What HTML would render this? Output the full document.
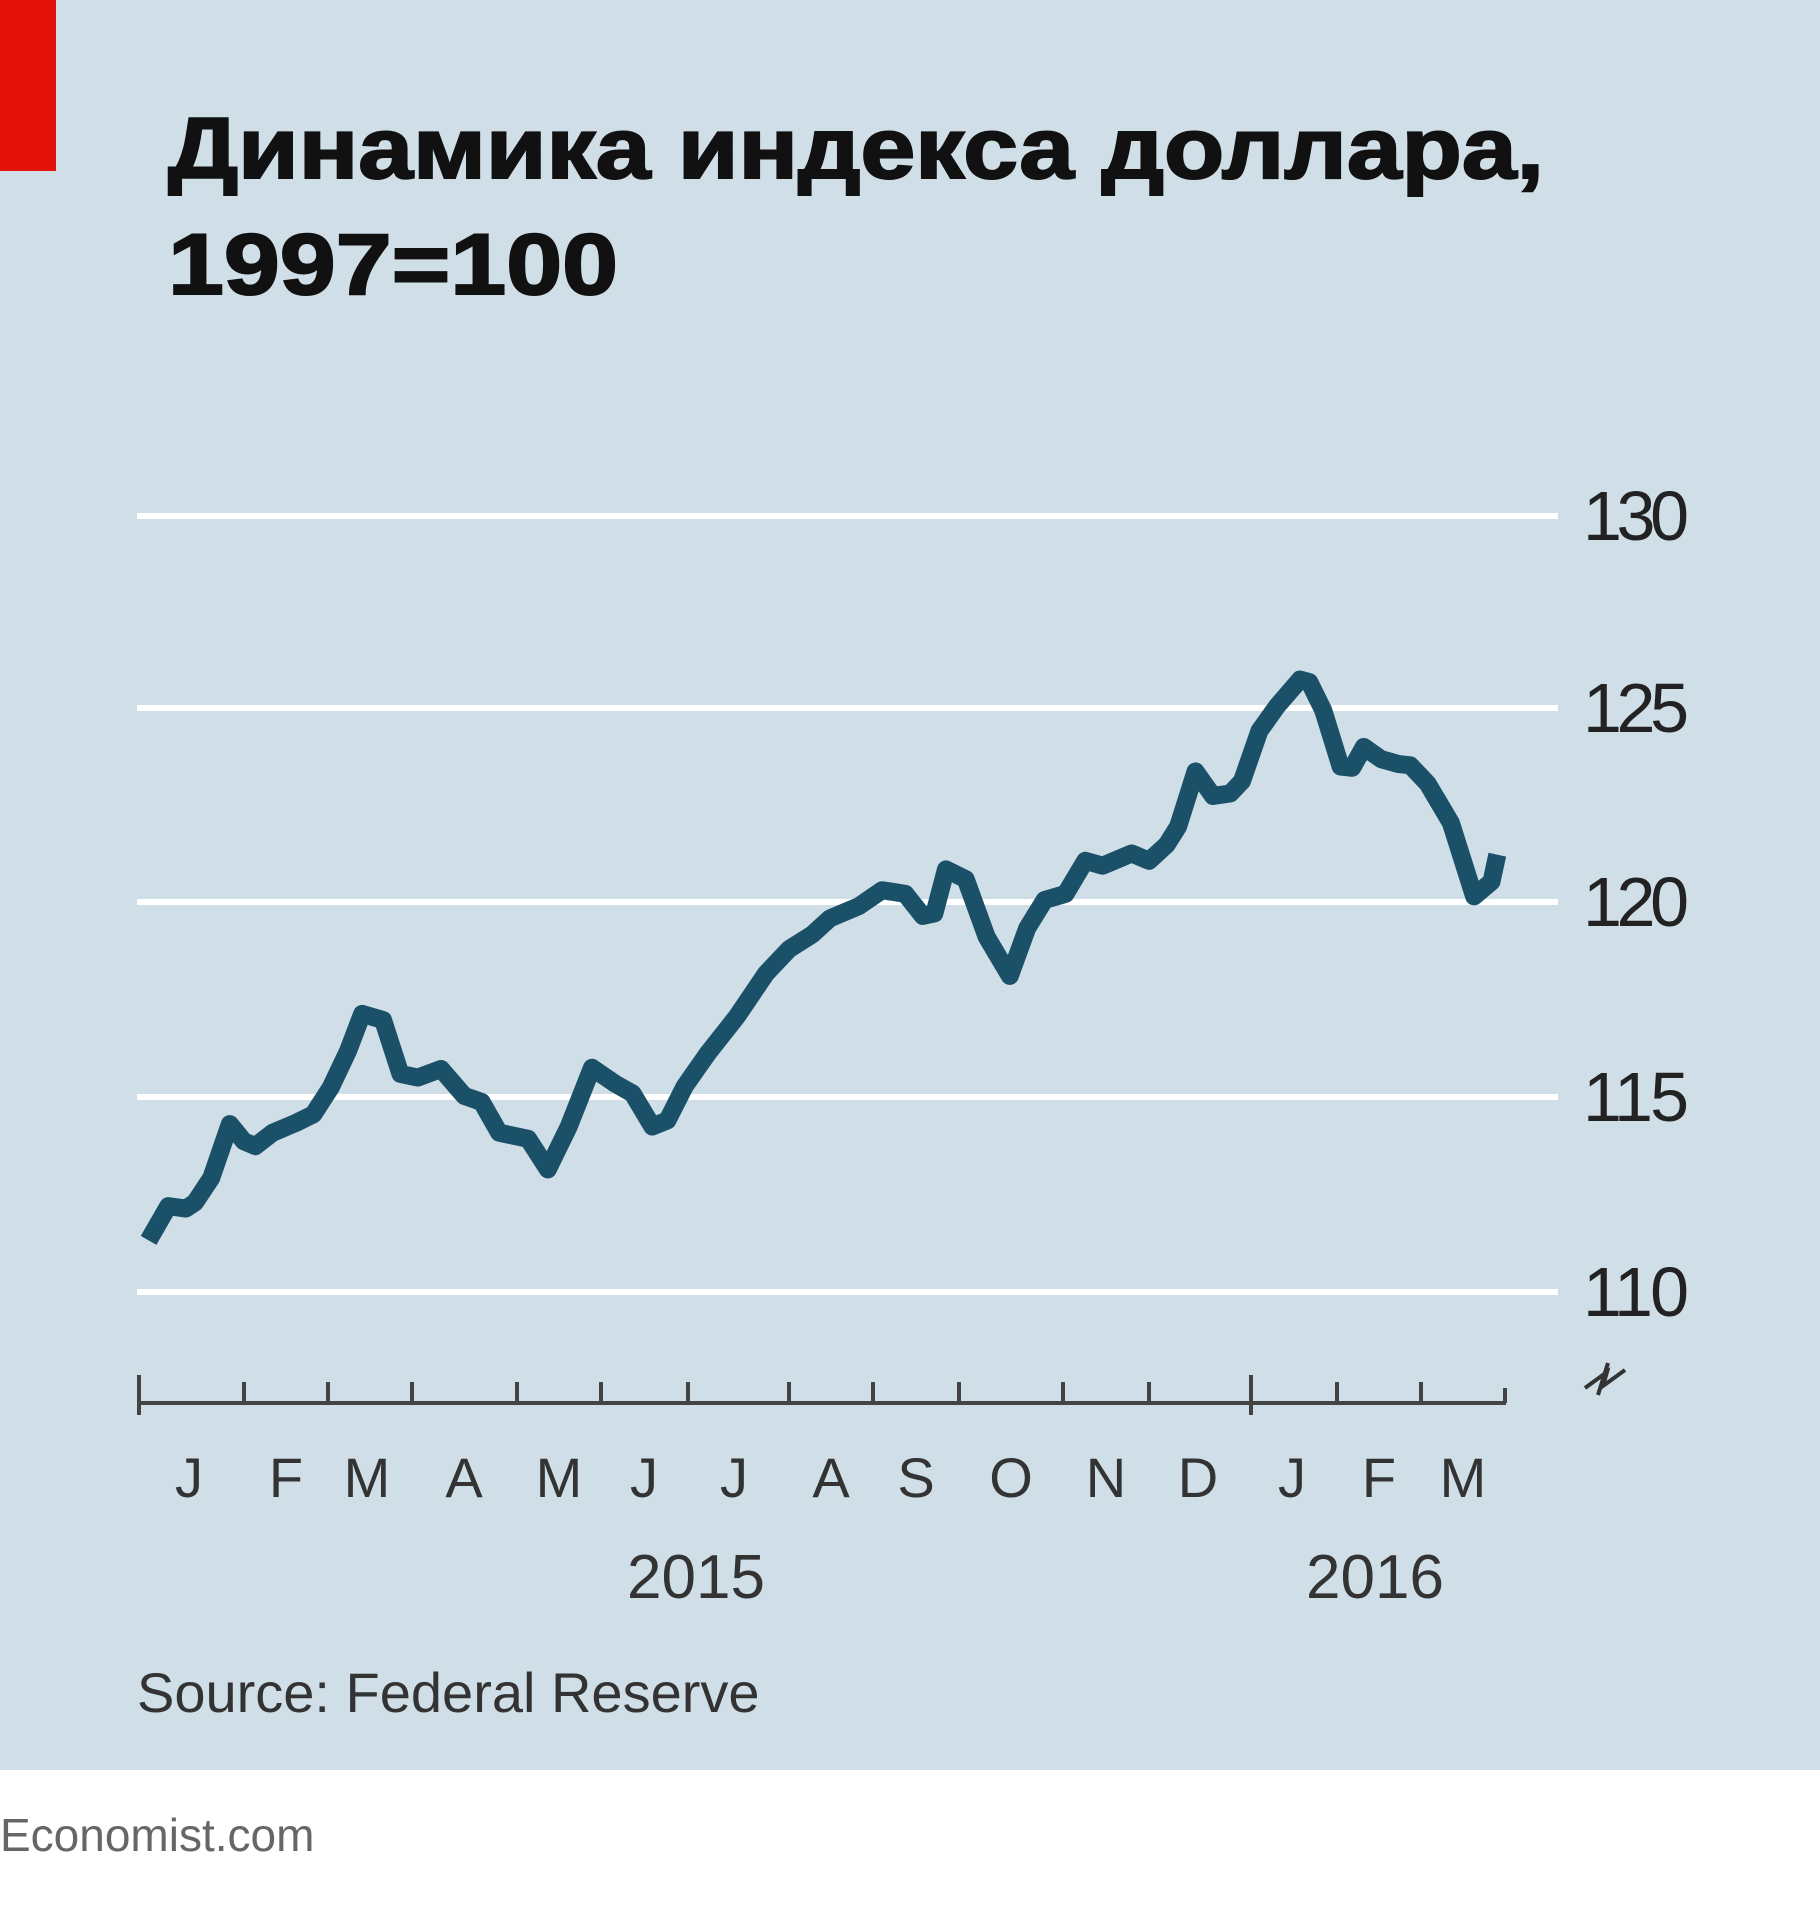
<!DOCTYPE html>
<html><head><meta charset="utf-8"><style>
html,body{margin:0;padding:0;background:#fff}
svg{display:block}
</style></head><body>
<svg width="1820" height="1920" viewBox="0 0 1820 1920" xmlns="http://www.w3.org/2000/svg">
<rect x="0" y="0" width="1820" height="1770" fill="#cfdee7"/>
<rect x="0" y="0" width="56" height="171" fill="#e3120b"/>
<g font-family="Liberation Sans, sans-serif" font-weight="bold" font-size="86" fill="#111" stroke="#111" stroke-width="2">
<text x="168" y="178" textLength="1376" lengthAdjust="spacingAndGlyphs">Динамика индекса доллара,</text>
<text x="168" y="294" textLength="450" lengthAdjust="spacingAndGlyphs">1997=100</text>
</g>
<g stroke="#ffffff" stroke-width="6">
<line x1="137" y1="516" x2="1558" y2="516"/>
<line x1="137" y1="708" x2="1558" y2="708"/>
<line x1="137" y1="902" x2="1558" y2="902"/>
<line x1="137" y1="1097" x2="1558" y2="1097"/>
<line x1="137" y1="1292" x2="1558" y2="1292"/>
</g>
<g font-family="Liberation Sans, sans-serif" font-size="70" fill="#222">
<text x="1583" y="540" textLength="106">130</text>
<text x="1583" y="732" textLength="106">125</text>
<text x="1583" y="926" textLength="106">120</text>
<text x="1583" y="1121" textLength="106">115</text>
<text x="1583" y="1316" textLength="106">110</text>
</g>
<path d="M1585,1388 l22,-16 l-4,14 l22,-16 M1598,1395 l10,-32" stroke="#333" stroke-width="4" fill="none"/>
<g stroke="#444" stroke-width="4" fill="none">
<line x1="139" y1="1403" x2="1506" y2="1403"/>
<path d="M139,1375V1415 M244,1382V1403 M328,1382V1403 M412,1382V1403 M517,1382V1403 M601,1382V1403 M688,1382V1403 M789,1382V1403 M873,1382V1403 M959,1382V1403 M1063,1382V1403 M1149,1382V1403 M1251,1375V1415 M1337,1382V1403 M1421,1382V1403 M1505,1388V1403"/>
</g>
<g font-family="Liberation Sans, sans-serif" font-size="56" fill="#333" text-anchor="middle">
<text x="189" y="1497">J</text><text x="286" y="1497">F</text><text x="367" y="1497">M</text>
<text x="464" y="1497">A</text><text x="559" y="1497">M</text><text x="644" y="1497">J</text>
<text x="734" y="1497">J</text><text x="831" y="1497">A</text><text x="916" y="1497">S</text>
<text x="1011" y="1497">O</text><text x="1106" y="1497">N</text><text x="1198" y="1497">D</text>
<text x="1292" y="1497">J</text><text x="1379" y="1497">F</text><text x="1463" y="1497">M</text>
<text x="696" y="1598" font-size="62">2015</text>
<text x="1375" y="1598" font-size="62">2016</text>
</g>
<text x="137" y="1712" font-family="Liberation Sans, sans-serif" font-size="56" fill="#333">Source: Federal Reserve</text>
<text x="0" y="1851" font-family="Liberation Sans, sans-serif" font-size="46" fill="#666">Economist.com</text>
<g transform="scale(1.1607,1.2245)">
<polyline fill="none" stroke="#1a5068" stroke-width="18" vector-effect="non-scaling-stroke" stroke-linejoin="round" points="128,1013 145,985 160,987 168,982 182,962 198,918 210,932 220,936 235,925 255,917 270,910 285,888 300,858 312,828 330,833 345,877 360,880 380,873 400,895 415,900 430,925 455,930 472,955 490,920 510,872 530,885 545,893 562,920 575,915 590,887 610,860 635,830 660,795 680,775 700,763 715,750 740,740 760,727 780,730 795,748 805,746 815,710 832,718 850,765 870,797 885,758 900,735 918,730 935,703 950,707 975,697 990,703 1005,690 1015,675 1030,630 1045,650 1060,648 1070,638 1085,597 1100,577 1120,555 1128,557 1140,580 1155,626 1165,627 1175,610 1190,620 1205,624 1215,625 1230,640 1240,656 1250,672 1270,732 1285,720 1290,698"/>
</g>
</svg>
</body></html>
